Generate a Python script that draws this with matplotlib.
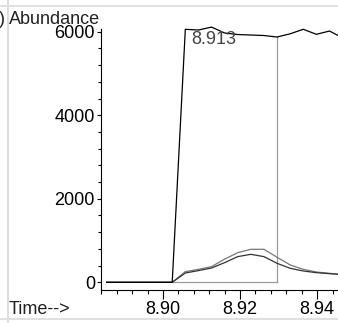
import matplotlib
matplotlib.use('Agg')
import matplotlib.pyplot as plt
from matplotlib.lines import Line2D
from matplotlib.ticker import MultipleLocator

plt.rcParams['font.family'] = ['Liberation Sans', 'DejaVu Sans']

# retention time (min) and abundances
times = [8.8854, 8.8888, 8.8922, 8.8956, 8.8990, 8.9024, 8.9058, 8.9092, 8.9126,
         8.9160, 8.9194, 8.9228, 8.9262, 8.9296, 8.9330, 8.9364, 8.9398, 8.9432, 8.9466]
tic = [0, 0, 0, 0, 0, 0, 6057, 6040, 6110,
       5968, 5932, 5920, 5908, 5872, 5950, 6057, 5937, 6016, 5850]
ion_a = [0, 0, 0, 0, 0, 0, 255, 311, 375,
         555, 710, 790, 790, 600, 415, 311, 247, 215, 190]
ion_b = [0, 0, 0, 0, 0, 0, 223, 280, 343,
         471, 615, 670, 615, 455, 335, 271, 231, 207, 184]

peak_start = 8.9024
peak_end = 8.9296
peak_end_height = 5872
peak_label = "8.913"
peak_label_pos = (8.9074, 5698)

fs = 13
W, H = 338, 323
fig = plt.figure(figsize=(W / 100, H / 100), dpi=100)
ax = fig.add_axes([100.5 / W, 1 - 290 / H, 1 - 100.5 / W, (290 - 29.3) / H])

# integration lines
ax.plot([peak_start, peak_end], [0, 0], color='#9a9a9a', lw=0.9, clip_on=False)
ax.plot([peak_end, peak_end], [0, peak_end_height], color='#9a9a9a', lw=0.9, clip_on=False)

ax.plot(times, ion_a, color='#777777', lw=0.9, clip_on=False)
ax.plot(times, ion_b, color='#333333', lw=0.9, clip_on=False)
ax.plot(times, tic, color='black', lw=0.9, clip_on=False)

ax.text(peak_label_pos[0], peak_label_pos[1], peak_label, fontsize=fs,
        color='#444444', ha='left', va='baseline')

ax.set_xlim(8.8838, 8.9454)
ax.set_ylim(-184, 6057)
ax.spines['top'].set_visible(False)
ax.spines['right'].set_visible(False)
ax.spines['left'].set_linewidth(0.8)
ax.spines['bottom'].set_linewidth(0.8)

ax.set_xticks([8.90, 8.92, 8.94])
ax.set_xticklabels(['8.90', '8.92', '8.94'])
ax.xaxis.set_minor_locator(MultipleLocator(0.004))
ax.set_yticks([0, 2000, 4000, 6000])
ax.yaxis.set_minor_locator(MultipleLocator(400))
ax.tick_params(axis='x', which='major', length=6.5, width=0.8, pad=1.5, labelsize=fs)
ax.tick_params(axis='x', which='minor', length=2.9, width=0.8)
ax.tick_params(axis='y', which='major', length=3, width=0.8, pad=1, labelsize=fs)
ax.tick_params(axis='y', which='minor', length=2.2, width=0.8)

fig.text(9.3 / W, 1 - 24 / H, 'Abundance', fontsize=fs, ha='left', va='baseline', color='#222222')
fig.text(-1 / W, 1 - 24 / H, ')', fontsize=fs, ha='left', va='baseline', color='#222222')
fig.text(9 / W, 1 - 314 / H, 'Time-->', fontsize=fs, ha='left', va='baseline', color='#222222')

# light frame of the report page
fig.add_artist(Line2D([8.3 / W, 8.3 / W], [0, 1], transform=fig.transFigure, color='#d8d8d8', lw=1.2))
fig.add_artist(Line2D([0, 1], [1 - 5.7 / H, 1 - 5.7 / H], transform=fig.transFigure, color='#e0e0e0', lw=1.5))
fig.add_artist(Line2D([0, 1], [1 - 319 / H, 1 - 319 / H], transform=fig.transFigure, color='#e0e0e0', lw=1.5))

fig.savefig('out.png', dpi=100)
